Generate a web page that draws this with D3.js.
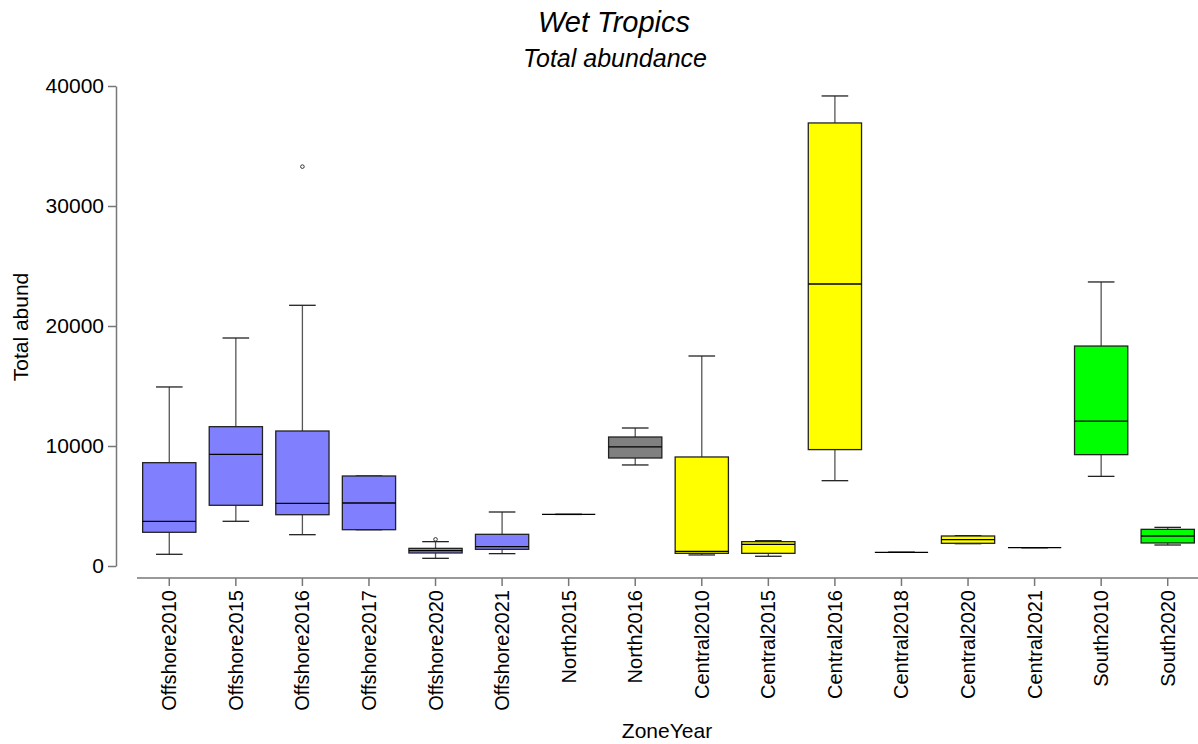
<!DOCTYPE html>
<html>
<head>
<meta charset="utf-8">
<script src="https://cdn.jsdelivr.net/npm/d3@7"></script>
<style>
  body { margin: 0; background: #fff; }
  svg text { font-family: "Liberation Sans", Arial, sans-serif; fill: #000; }
  .axis path, .axis line { stroke: #777; stroke-width: 1.5; }
</style>
</head>
<body>
<div id="chart"></div>
<script>
'use strict'

// ZoneYear categories and their zone
const categories = ['Offshore2010', 'Offshore2015', 'Offshore2016', 'Offshore2017', 'Offshore2020', 'Offshore2021',
    'North2015', 'North2016', 'Central2010', 'Central2015', 'Central2016', 'Central2018', 'Central2020',
    'Central2021', 'South2010', 'South2020'];
const zones = ['Offshore', 'Offshore', 'Offshore', 'Offshore', 'Offshore', 'Offshore',
    'North', 'North', 'Central', 'Central', 'Central', 'Central', 'Central', 'Central', 'South', 'South'];

// box stats
const mins    = [975, 3725, 2610, 3025, 640, 1030, 4300, 8420, 920, 810, 7110, 1140, 1860, 1530, 7470, 1750];
const q1s     = [2810, 5060, 4275, 3025, 1085, 1390, 4300, 9000, 1055, 1055, 9700, 1140, 1890, 1530, 9280, 1920];
const medians = [3725, 9310, 5225, 5250, 1280, 1610, 4300, 9920, 1220, 1805, 23500, 1140, 2195, 1530, 12080, 2500];
const q3s     = [8610, 11610, 11250, 7500, 1470, 2640, 4300, 10750, 9085, 2030, 36920, 1140, 2500, 1530, 18330, 3055];
const maxs    = [14920, 19000, 21725, 7500, 2030, 4500, 4300, 11500, 17500, 2110, 39170, 1140, 2530, 1530, 23670, 3220];
const outliers = [
    { cat: 'Offshore2016', v: 33280 },
    { cat: 'Offshore2020', v: 2220 }
];
const yTicks = [0, 10000, 20000, 30000, 40000];

const zoneColor = { Offshore: '#8080ff', North: '#808080', Central: '#ffff00', South: '#00ff00' };

const data = categories.map(function(c, i) {
    return { cat: c, zone: zones[i], min: mins[i], q1: q1s[i], med: medians[i], q3: q3s[i], max: maxs[i] };
});

let width = 1198, height = 744;
let svg = d3.select('#chart').append('svg')
    .attr('width', width)
    .attr('height', height);

let x = d3.scaleBand().domain(categories).range([136, 1201]).paddingInner(0.2).paddingOuter(0.1),
    y = d3.scaleLinear().domain([0, 40000]).range([566, 86]);

// axes
svg.append('g')
    .attr('class', 'axis axis--y')
    .attr('transform', 'translate(116,0)')
    .call(d3.axisLeft(y).tickValues(yTicks).tickFormat(d3.format('d')).tickSize(8).tickSizeOuter(0).tickPadding(4))
    .selectAll('text')
    .style('font-size', '21px');

let xAxis = svg.append('g')
    .attr('class', 'axis axis--x')
    .attr('transform', 'translate(0,578)')
    .call(d3.axisBottom(x).tickSize(8).tickSizeOuter(0));
xAxis.select('.domain').attr('d', 'M137,0H1198');
xAxis.selectAll('text')
    .style('font-size', '20px')
    .attr('transform', 'rotate(-90)')
    .attr('text-anchor', 'end')
    .attr('x', -12)
    .attr('y', 0)
    .attr('dy', '0.35em');

// boxes
let bw = x.bandwidth();
let g = svg.append('g');
let box = g.selectAll('.box').data(data).enter().append('g')
    .attr('class', 'box')
    .attr('transform', function(d) { return 'translate(' + (x(d.cat) + bw / 2) + ',0)'; });

box.append('line')
    .attr('x1', 0).attr('x2', 0)
    .attr('y1', function(d) { return y(d.max); })
    .attr('y2', function(d) { return y(d.q3); })
    .attr('stroke', '#555').attr('stroke-width', 1.3);
box.append('line')
    .attr('x1', 0).attr('x2', 0)
    .attr('y1', function(d) { return y(d.q1); })
    .attr('y2', function(d) { return y(d.min); })
    .attr('stroke', '#555').attr('stroke-width', 1.3);
box.append('line')
    .attr('x1', -bw / 4).attr('x2', bw / 4)
    .attr('y1', function(d) { return y(d.max); })
    .attr('y2', function(d) { return y(d.max); })
    .attr('stroke', '#222').attr('stroke-width', 1.3);
box.append('line')
    .attr('x1', -bw / 4).attr('x2', bw / 4)
    .attr('y1', function(d) { return y(d.min); })
    .attr('y2', function(d) { return y(d.min); })
    .attr('stroke', '#222').attr('stroke-width', 1.3);
box.append('rect')
    .attr('x', -bw / 2)
    .attr('width', bw)
    .attr('y', function(d) { return y(d.q3); })
    .attr('height', function(d) { return Math.max(0, y(d.q1) - y(d.q3)); })
    .attr('fill', function(d) { return zoneColor[d.zone]; })
    .attr('stroke', '#222').attr('stroke-width', 1.3);
box.append('line')
    .attr('x1', -bw / 2).attr('x2', bw / 2)
    .attr('y1', function(d) { return y(d.med); })
    .attr('y2', function(d) { return y(d.med); })
    .attr('stroke', '#000').attr('stroke-width', 1.3);

g.selectAll('.outlier').data(outliers).enter().append('circle')
    .attr('class', 'outlier')
    .attr('cx', function(d) { return x(d.cat) + bw / 2; })
    .attr('cy', function(d) { return y(d.v); })
    .attr('r', 1.8)
    .attr('fill', 'none')
    .attr('stroke', '#333')
    .attr('stroke-width', 1);

// titles
svg.append('text')
    .attr('x', 614).attr('y', 32)
    .attr('text-anchor', 'middle')
    .style('font-size', '29px').style('font-style', 'italic')
    .text('Wet Tropics');
svg.append('text')
    .attr('x', 615).attr('y', 67)
    .attr('text-anchor', 'middle')
    .style('font-size', '25px').style('font-style', 'italic')
    .text('Total abundance');
svg.append('text')
    .attr('transform', 'translate(28,327) rotate(-90)')
    .attr('text-anchor', 'middle')
    .style('font-size', '21px')
    .text('Total abund');
svg.append('text')
    .attr('x', 667).attr('y', 738)
    .attr('text-anchor', 'middle')
    .style('font-size', '21px')
    .text('ZoneYear');
</script>
</body>
</html>
